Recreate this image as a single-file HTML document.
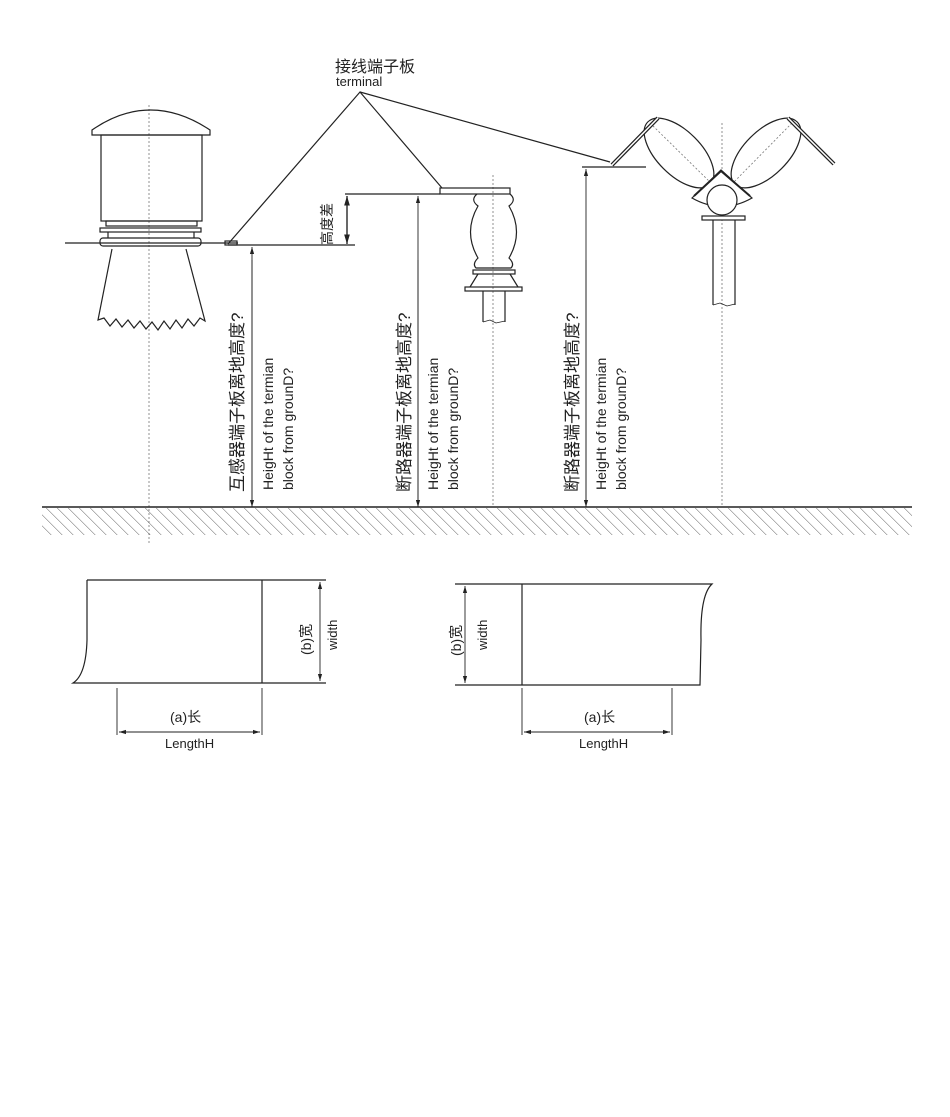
<!DOCTYPE html>
<html><head><meta charset="utf-8"><style>
html,body{margin:0;padding:0;background:#fff;}
svg{display:block}
text{font-family:"Liberation Sans","Noto Sans CJK SC",sans-serif;fill:#222}
</style></head><body>
<svg width="950" height="1117" viewBox="0 0 950 1117" xmlns="http://www.w3.org/2000/svg">
<defs>
<marker id="ar" viewBox="0 0 10 10" refX="10" refY="5" markerWidth="8" markerHeight="8" orient="auto-start-reverse"><path d="M0,2 L10,5 L0,8 z" fill="#222"/></marker>
<pattern id="hatch" width="11" height="30" patternUnits="userSpaceOnUse" patternTransform="skewX(45)"><line x1="0" y1="0" x2="0" y2="30" stroke="#333" stroke-width="1"/></pattern>
</defs>
<g stroke="#222" fill="none" stroke-width="1.2">
<text x="335" y="72" font-size="16" stroke="none">接线端子板</text>
<text x="336" y="86" font-size="13" stroke="none">terminal</text>
<polyline points="228,244 360,92 442,188"/>
<line x1="360" y1="92" x2="610" y2="162"/>
<g stroke="#777" stroke-dasharray="2,2" stroke-width="0.8">
<line x1="149" y1="105" x2="149" y2="545"/>
<line x1="493" y1="175" x2="493" y2="507"/>
<line x1="722" y1="123" x2="722" y2="507"/>
<line x1="650" y1="123" x2="713" y2="185"/>
<line x1="792" y1="123" x2="731" y2="185"/>
</g>
<path d="M92,130 Q150,90 210,130 L210,135 L92,135 Z"/>
<rect x="101" y="135" width="101" height="86"/>
<rect x="106" y="221" width="91" height="5"/>
<rect x="100" y="228" width="101" height="4"/>
<line x1="108" y1="232" x2="108" y2="238"/><line x1="194" y1="232" x2="194" y2="238"/>
<line x1="65" y1="243" x2="238" y2="243"/>
<rect x="100" y="238" width="101" height="8" rx="3"/>
<rect x="225" y="241" width="12" height="4"/>
<path d="M112,249 L98,320 L104,318 L110,326 L116,319 L122,327 L128,320 L134,328 L140,321 L146,329 L152,322 L158,330 L164,321 L170,329 L176,320 L182,328 L188,319 L194,326 L200,318 L205,321 L186,249"/>
<line x1="228" y1="245" x2="355" y2="245"/>
<line x1="345" y1="194" x2="440" y2="194"/>
<line x1="347" y1="244" x2="347" y2="196" marker-end="url(#ar)"/>
<line x1="347" y1="196" x2="347" y2="244" marker-end="url(#ar)"/>
<text transform="translate(332,245) rotate(-90)" font-size="14" stroke="none">高度差</text>
<rect x="440" y="188" width="70" height="6"/>
<path d="M477,194 Q470,200 478,206 Q463,232 478,258 Q472,264 476,268 L511,268 Q515,264 509,258 Q524,232 509,206 Q517,200 510,194"/>
<rect x="473" y="270" width="42" height="4"/>
<path d="M478,274 L470,287 M510,274 L518,287"/>
<rect x="465" y="287" width="57" height="4"/>
<line x1="483" y1="291" x2="483" y2="322"/><line x1="505" y1="291" x2="505" y2="322"/>
<path d="M483,322 L490,320 L496,323 L505,321" stroke-width="0.8"/>
<line x1="582" y1="167" x2="646" y2="167"/>
<ellipse cx="679" cy="153" rx="44" ry="22" transform="rotate(45 679 153)"/>
<ellipse cx="766" cy="153" rx="44" ry="22" transform="rotate(-45 766 153)"/>
<line x1="612" y1="165" x2="658" y2="118" stroke-width="4"/>
<line x1="612" y1="165" x2="658" y2="118" stroke="#fff" stroke-width="1.5"/>
<line x1="788" y1="118" x2="834" y2="164" stroke-width="4"/>
<line x1="788" y1="118" x2="834" y2="164" stroke="#fff" stroke-width="1.5"/>
<path d="M692,198 L721,170 L752,198 Q722,215 692,198 Z" fill="#fff"/>
<path d="M694,196 L721,171 L750,196" stroke-width="2"/>
<circle cx="722" cy="200" r="15" fill="#fff"/>
<rect x="702" y="216" width="43" height="4" fill="#fff"/>
<line x1="713" y1="220" x2="713" y2="305"/><line x1="735" y1="220" x2="735" y2="305"/>
<path d="M713,305 L720,303 L727,306 L735,304" stroke-width="0.8"/>
<line x1="252" y1="507" x2="252" y2="247" marker-end="url(#ar)" stroke-width="0.9"/>
<line x1="252" y1="260" x2="252" y2="507" marker-end="url(#ar)" stroke-width="0.9"/>
<line x1="418" y1="507" x2="418" y2="196" marker-end="url(#ar)" stroke-width="0.9"/>
<line x1="418" y1="260" x2="418" y2="507" marker-end="url(#ar)" stroke-width="0.9"/>
<line x1="586" y1="507" x2="586" y2="169" marker-end="url(#ar)" stroke-width="0.9"/>
<line x1="586" y1="260" x2="586" y2="507" marker-end="url(#ar)" stroke-width="0.9"/>
<line x1="42" y1="507" x2="912" y2="507" stroke-width="1.5"/>
<rect x="42" y="508" width="870" height="27" fill="url(#hatch)" stroke="none"/>
<path d="M87,580 L87,640 Q86,675 73,683 L262,683 M87,580 L326,580 M262,580 L262,683 L326,683"/>
<line x1="320" y1="582" x2="320" y2="681" marker-end="url(#ar)" marker-start="url(#ar)" stroke-width="0.9"/>
<line x1="117" y1="688" x2="117" y2="735" stroke-width="0.9"/><line x1="262" y1="688" x2="262" y2="735" stroke-width="0.9"/>
<line x1="119" y1="732" x2="260" y2="732" marker-end="url(#ar)" marker-start="url(#ar)" stroke-width="0.9"/>
<path d="M455,584 L712,584 Q700,595 701,640 L700,685 L455,685 M522,584 L522,685"/>
<line x1="465" y1="586" x2="465" y2="683" marker-end="url(#ar)" marker-start="url(#ar)" stroke-width="0.9"/>
<line x1="522" y1="688" x2="522" y2="735" stroke-width="0.9"/><line x1="672" y1="688" x2="672" y2="735" stroke-width="0.9"/>
<line x1="524" y1="732" x2="670" y2="732" marker-end="url(#ar)" marker-start="url(#ar)" stroke-width="0.9"/>
</g>
<g font-size="17">
<text transform="translate(243,492) rotate(-90)">互感器端子板离地高度?</text>
<text transform="translate(410,492) rotate(-90)">断路器端子板离地高度?</text>
<text transform="translate(578,492) rotate(-90)">断路器端子板离地高度?</text>
</g>
<g font-size="14">
<text transform="translate(273,490) rotate(-90)">HeigHt of the termian</text>
<text transform="translate(293,490) rotate(-90)">block from grounD?</text>
<text transform="translate(438,490) rotate(-90)">HeigHt of the termian</text>
<text transform="translate(458,490) rotate(-90)">block from grounD?</text>
<text transform="translate(606,490) rotate(-90)">HeigHt of the termian</text>
<text transform="translate(626,490) rotate(-90)">block from grounD?</text>
</g>
<g font-size="13">
<text transform="translate(311,655) rotate(-90)" font-size="14">(b)宽</text>
<text transform="translate(337,650) rotate(-90)">width</text>
<text transform="translate(461,656) rotate(-90)" font-size="14">(b)宽</text>
<text transform="translate(487,650) rotate(-90)">width</text>
<text x="170" y="722" font-size="14">(a)长</text>
<text x="165" y="748">LengthH</text>
<text x="584" y="722" font-size="14">(a)长</text>
<text x="579" y="748">LengthH</text>
</g>
</svg>
</body></html>
